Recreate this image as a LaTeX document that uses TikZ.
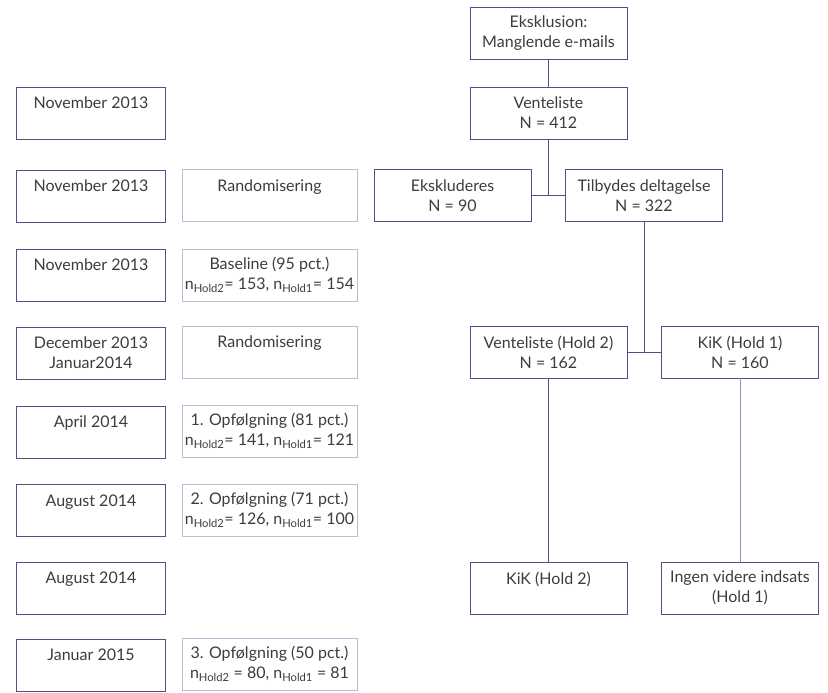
\documentclass[tikz,border=0pt]{standalone}
\usepackage{fontspec}
\setmainfont{Lato}
\usetikzlibrary{calc}
\definecolor{lilla}{HTML}{5A4A8C}
\definecolor{lyslilla}{HTML}{C2B9D6}
\definecolor{linielilla}{HTML}{9A8CB8}
\definecolor{tekst}{HTML}{3C3C3C}

\begin{document}
\begin{tikzpicture}[x=1pt, y=-1pt,
        boks/.style={draw=lilla, line width=0.9pt, minimum height=52pt, inner sep=0pt, align=center,
            text=tekst, font=\fontsize{16}{20}\selectfont},
        dato/.style={boks, minimum width=149pt},
        maal/.style={boks, draw=lyslilla, minimum width=175pt},
        flow/.style={boks, minimum width=157pt},
        linje/.style={draw=lilla, line width=0.9pt}]
        \useasboundingbox (0,0) rectangle (828,693);

        \node[dato] (d1) at (91,113) {November 2013\\ \mbox{}};
        \node[dato] (d2) at (91,196) {November 2013\\ \mbox{}};
        \node[dato] (d3) at (91,275) {November 2013\\ \mbox{}};
        \node[dato] (d4) at (91,353) {December 2013\\ Januar2014};
        \node[dato] (d5) at (91,432) {April 2014\\ \mbox{}};
        \node[dato] (d6) at (91,510.5) {August 2014\\ \mbox{}};
        \node[dato] (d7) at (91,588) {August 2014\\ \mbox{}};
        \node[dato] (d8) at (91,665) {Januar 2015\\ \mbox{}};

        \node[maal] (m2) at (269.5,195.5) {Randomisering\\ \mbox{}};
        \node[maal] (m3) at (269.5,275) {Baseline (95 pct.)\\ n\textsubscript{Hold2}= 153, n\textsubscript{Hold1}= 154};
        \node[maal] (m4) at (269.5,352) {Randomisering\\ \mbox{}};
        \node[maal] (m5) at (269.5,431) {1. Opfølgning (81 pct.)\\ n\textsubscript{Hold2}= 141, n\textsubscript{Hold1}= 121};
        \node[maal] (m6) at (269.5,510) {2. Opfølgning (71 pct.)\\ n\textsubscript{Hold2}= 126, n\textsubscript{Hold1}= 100};
        \node[maal] (m8) at (269.5,664) {3. Opfølgning (50 pct.)\\ n\textsubscript{Hold2} = 80, n\textsubscript{Hold1} = 81};

        \node[flow] (eksklusion) at (548.5,33) {Eksklusion:\\ Manglende e-mails};
        \node[flow] (venteliste) at (548.5,113) {Venteliste\\ N = 412};
        \node[flow] (ekskl) at (452.5,195.5) {Ekskluderes\\ N = 90};
        \node[flow] (tilbydes) at (644,195.5) {Tilbydes deltagelse\\ N = 322};
        \node[flow] (hold2) at (548.5,352) {Venteliste (Hold 2)\\ N = 162};
        \node[flow] (hold1) at (740,352) {KiK (Hold 1)\\ N = 160};
        \node[flow] (kik2) at (548.5,588) {KiK (Hold 2)\\ \mbox{}};
        \node[flow] (ingen) at (740,588) {Ingen videre indsats\\ (Hold 1)};

        \draw[linje] (eksklusion) -- (venteliste);
        \draw[linje] (venteliste.south) -- (venteliste.south |- ekskl.east);
        \draw[linje] (ekskl.east) -- (tilbydes.west);
        \draw[linje] (tilbydes.south) -- (tilbydes.south |- hold2.east);
        \draw[linje] (hold2.east) -- (hold1.west);
        \draw[linje] (hold2) -- (kik2);
        \draw[linje, draw=linielilla] (hold1) -- (ingen);
    \end{tikzpicture}
\end{document}
